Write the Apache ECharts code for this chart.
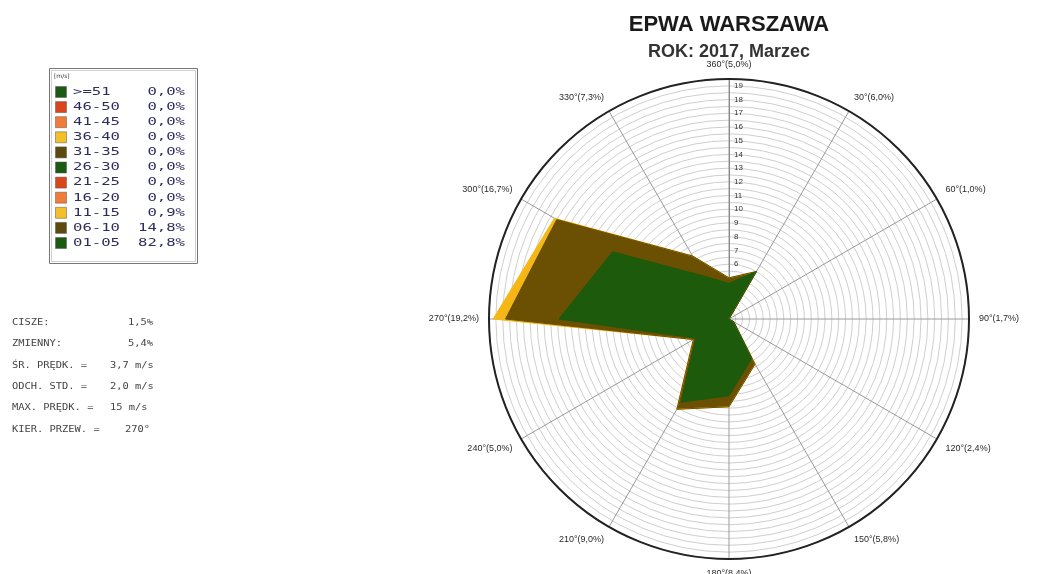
<!DOCTYPE html>
<html><head><meta charset="utf-8">
<script src="https://cdn.jsdelivr.net/npm/echarts@6/dist/echarts.min.js"></script>
<style>html,body{margin:0;padding:0;background:#fff}#c{width:1050px;height:574px}</style>
</head><body><div id="c"></div>
<script>
// ---- data ----
const directions = [0, 30, 60, 90, 120, 150, 180, 210, 240, 270, 300, 330];
const directionPercents = ['5,0', '6,0', '1,0', '1,7', '2,4', '5,8', '8,4', '9,0', '5,0', '19,2', '16,7', '7,3'];
const speed01_05 = [4.6, 6.0, 1.0, 1.7, 2.4, 5.3, 7.6, 9.0, 4.8, 14.4, 11.8, 5.6];
const speed06_10 = [0.4, 0.0, 0.0, 0.0, 0.0, 0.5, 0.8, 0.6, 0.2, 3.9, 4.7, 1.7];
const speed11_15 = [0.0, 0.0, 0.0, 0.0, 0.0, 0.0, 0.0, 0.0, 0.0, 0.9, 0.2, 0.0];
const legendClasses = ['>=51', '46-50', '41-45', '36-40', '31-35', '26-30', '21-25', '16-20', '11-15', '06-10', '01-05'];
const legendPercents = ['0,0%', '0,0%', '0,0%', '0,0%', '0,0%', '0,0%', '0,0%', '0,0%', '0,9%', '14,8%', '82,8%'];
const legendColors = ['#1b5a12', '#d9461c', '#f07c38', '#f3c02a', '#5c4a0e', '#1b5a12', '#d9461c', '#f07c38', '#f3c02a', '#5c4a0e', '#1b5a12'];
const statLabels = ['CISZE:', 'ZMIENNY:', 'ŚR. PRĘDK. =', 'ODCH. STD. =', 'MAX. PRĘDK. =', 'KIER. PRZEW. ='];
const statValues = ['1,5%', '5,4%', '3,7 m/s', '2,0 m/s', '15 m/s', '270°'];
const radialMin = 2, radialMax = 19.5, radialStep = 1;

// ---- styles ----
const GREEN = '#1d5a0b', BROWN = '#6b4f02', YELLOW = '#f5b716';

const clamp = v => Math.min(radialMax, Math.max(radialMin, v));
const mid = directions.map((d, i) => speed01_05[i] + speed06_10[i]);
const total = directions.map((d, i) => mid[i] + speed11_15[i]);
function ring(vals) {
  const pts = directions.map((d, i) => [clamp(vals[i]), d]);
  pts.push([clamp(vals[0]), 360]);
  return pts;
}
function areaSeries(vals, color) {
  return {
    type: 'line', coordinateSystem: 'polar', data: ring(vals), symbol: 'none',
    smooth: false, silent: true,
    lineStyle: { color: color, width: 1 },
    areaStyle: { color: color, opacity: 1 }
  };
}

const graphics = [];
graphics.push({ type: 'text', x: 729, y: 25,
  style: { text: 'EPWA WARSZAWA', x: 0, y: 0, align: 'center', verticalAlign: 'middle',
    font: 'bold 22px "Liberation Sans", Arial, sans-serif', fill: '#1a1a1a' } });
graphics.push({ type: 'text', x: 729, y: 52,
  style: { text: 'ROK: 2017, Marzec', x: 0, y: 0, align: 'center', verticalAlign: 'middle',
    font: 'bold 18px "Liberation Sans", Arial, sans-serif', fill: '#333' } });
// legend box
graphics.push({ type: 'rect', shape: { x: 49.5, y: 68.5, width: 148, height: 195 },
  style: { fill: '#fff', stroke: '#777', lineWidth: 1 } });
graphics.push({ type: 'rect', shape: { x: 51.5, y: 70.5, width: 144, height: 191 },
  style: { fill: 'none', stroke: '#d0d0d0', lineWidth: 1 } });
graphics.push({ type: 'text', x: 54, y: 76,
  style: { text: '[m/s]', x: 0, y: 0, verticalAlign: 'middle',
  font: '6px "DejaVu Sans", sans-serif', fill: '#333' } });
legendClasses.forEach((c, i) => {
  const y = 92 + i * 15.1;
  graphics.push({ type: 'rect', shape: { x: 55.5, y: y - 5.5, width: 11, height: 11 },
    style: { fill: legendColors[i], stroke: '#555', lineWidth: 0.5 } });
  graphics.push({ type: 'text', x: 73, y: y, scaleX: 1.42,
    style: { text: c, x: 0, y: 0, verticalAlign: 'middle',
    font: '11px "DejaVu Sans Mono", monospace', fill: '#2e2e5c' } });
  graphics.push({ type: 'text', x: 185, y: y, scaleX: 1.42,
    style: { text: legendPercents[i], x: 0, y: 0, align: 'right', verticalAlign: 'middle',
    font: '11px "DejaVu Sans Mono", monospace', fill: '#2e2e5c' } });
});
const statValueX = [128, 128, 110, 110, 110, 125];
statLabels.forEach((s, i) => {
  const y = 323 + i * 21.3;
  graphics.push({ type: 'text', x: 12, y: y, scaleX: 1.3,
    style: { text: s, x: 0, y: 0, verticalAlign: 'middle',
    font: '8px "DejaVu Sans Mono", monospace', fill: '#444' } });
  graphics.push({ type: 'text', x: statValueX[i], y: y, scaleX: 1.3,
    style: { text: statValues[i], x: 0, y: 0, verticalAlign: 'middle',
    font: '8px "DejaVu Sans Mono", monospace', fill: '#444' } });
});

const chart = echarts.init(document.getElementById('c'));
chart.setOption({
  animation: false,
  backgroundColor: '#fff',
  polar: { center: [729, 319], radius: 240 },
  angleAxis: {
    type: 'value', min: 0, max: 360, interval: 30, startAngle: 90, clockwise: true,
    axisLine: { lineStyle: { color: '#222', width: 2 } },
    axisTick: { show: false },
    axisLabel: {
      margin: 10, fontSize: 9, color: '#2a2a2a', fontFamily: '"Liberation Sans", Arial, sans-serif',
      formatter: v => {
        const i = directions.indexOf(v);
        if (i < 0) return '';
        return (v === 0 ? 360 : v) + '°(' + directionPercents[i] + '%)';
      }
    },
    splitLine: { show: true, lineStyle: { color: '#9a9a9a', width: 1 } }
  },
  radiusAxis: {
    type: 'value', min: radialMin, max: radialMax, interval: radialStep,
    axisLine: { lineStyle: { color: '#888', width: 1 } },
    axisTick: { show: false },
    axisLabel: {
      fontSize: 8, color: '#333', margin: -5, align: 'left',
      formatter: v => (v >= 6 && v % 1 === 0) ? String(v) : ''
    },
    splitLine: { show: true, lineStyle: { color: '#cfcfcf', width: 1 } },
    minorTick: { show: false, splitNumber: 2 },
    minorSplitLine: { show: true, lineStyle: { color: '#cfcfcf', width: 1 } }
  },
  series: [
    areaSeries(total, YELLOW),
    areaSeries(mid, BROWN),
    areaSeries(speed01_05, GREEN)
  ],
  graphic: graphics
});
</script></body></html>
